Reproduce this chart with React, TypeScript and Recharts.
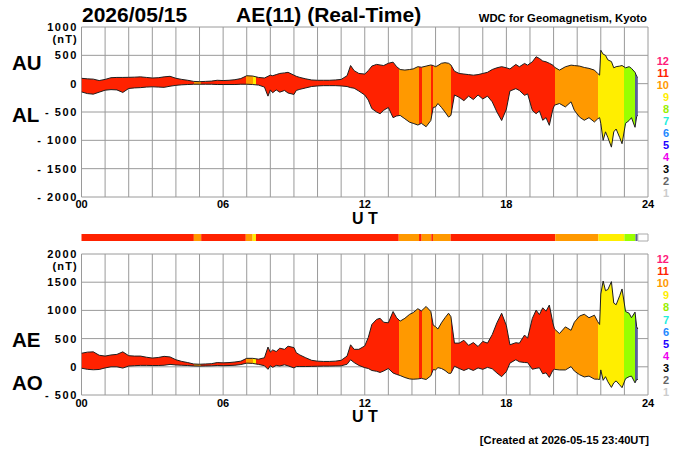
import React from 'react';
import { ComposedChart, BarChart, Bar, Area, Line, XAxis, YAxis, CartesianGrid } from 'recharts';

const FONT = "'Liberation Sans', Arial, Helvetica, sans-serif";

// time (UT hours)
const hours = [
  0, 0.25, 0.5, 0.75, 1, 1.25, 1.5, 1.75, 2, 2.25, 2.5, 2.75, 3, 3.25, 3.5, 3.75, 4, 4.25, 4.5, 4.75,
  5, 5.25, 5.5, 5.75, 6, 6.25, 6.5, 6.75, 7, 7.25, 7.5, 7.75, 7.9, 8, 8.1, 8.25, 8.4, 8.6, 8.75, 9,
  9.1, 9.25, 9.5, 9.75, 10, 10.25, 10.5, 10.75, 11, 11.25, 11.4, 11.55, 11.75, 12, 12.15, 12.3, 12.5, 12.65, 12.8, 13,
  13.2, 13.35, 13.5, 13.7, 13.9, 14.05, 14.25, 14.4, 14.6, 14.8, 14.9, 15, 15.1, 15.25, 15.4, 15.55, 15.65, 15.8, 16, 16.2,
  16.4, 16.6, 16.8, 17, 17.2, 17.4, 17.6, 17.8, 18, 18.15, 18.4, 18.55, 18.77, 18.9, 19.1, 19.26, 19.4, 19.54, 19.68, 19.82,
  19.97, 20.04, 20.25, 20.5, 20.74, 20.88, 21.1, 21.3, 21.5, 21.73, 21.87, 21.95, 22, 22.1, 22.2, 22.3, 22.45, 22.55, 22.65, 22.8,
  22.9, 23.05, 23.2, 23.3, 23.45, 23.52, 23.57,
];

const au = [
  95, 85, 80, 55, 75, 105, 110, 110, 112, 115, 120, 110, 100, 105, 120, 130, 95, 75, 60, 40,
  35, 40, 45, 60, 55, 60, 70, 90, 140, 135, 110, 100, 130, 150, 140, 160, 180, 190, 200, 150,
  130, 110, 85, 65, 60, 60, 60, 65, 75, 140, 320, 230, 180, 170, 230, 310, 340, 330, 320, 360,
  380, 300, 250, 240, 250, 260, 300, 290, 310, 330, 320, 300, 320, 360, 370, 360, 330, 220, 180, 170,
  160, 150, 160, 180, 200, 250, 280, 300, 280, 260, 339, 298, 357, 327, 386, 475, 445, 400, 386, 360,
  327, 290, 239, 298, 327, 320, 310, 286, 270, 239, 180, 150, 590, 520, 500, 420, 390, 280, 300, 310,
  320, 280, 300, 270, 200, 130, 110,
];

const al = [
  -145, -175, -185, -150, -115, -105, -110, -155, -85, -75, -70, -60, -55, -60, -65, -45, -30, -20, -15, -10,
  -10, -10, -10, -15, -15, -15, -15, -10, -10, -15, -25, -60, -220, -110, -160, -110, -150, -120, -165, -190,
  -120, -100, -75, -50, -40, -35, -35, -35, -40, -50, -70, -80, -130, -200, -290, -440, -500, -530, -470, -420,
  -600, -570, -560, -620, -680, -700, -730, -700, -760, -650, -420, -410, -350, -420, -500, -590, -560, -200, -240, -300,
  -220, -280, -200, -270, -220, -320, -500, -650, -450, -130, -88, -120, -206, -180, -472, -530, -480, -646, -600, -735,
  -450, -380, -350, -410, -320, -470, -590, -646, -600, -676, -620, -600, -700, -1000, -850, -950, -1120, -850, -800, -950,
  -1060, -700, -650, -600, -770, -580, -560,
];

// number of contributing stations per time span
const segFrom = [0, 4.76, 5.07, 6.96, 7.25, 7.39, 13.44, 14.3, 14.41, 14.82, 14.89, 15.64, 20.07, 21.9, 23.0, 23.47];
const segTo = [4.76, 5.07, 6.96, 7.25, 7.39, 13.44, 14.3, 14.41, 14.82, 14.89, 15.64, 20.07, 21.9, 23.0, 23.47, 23.57];
const segStations = [11, 10, 11, 10, 9, 11, 10, 11, 10, 11, 10, 11, 10, 9, 8, 5];

const hourTicks = Array.from({ length: 25 }, (_, i) => i);
const auTicks = [-2000, -1500, -1000, -500, 0, 500, 1000];
const aeTicks = [-500, 0, 500, 1000, 1500, 2000];
const legendNumbers = [12, 11, 10, 9, 8, 7, 6, 5, 4, 3, 2, 1];

const fillColors: Record<number, string> = {
  11: '#ff2200', 10: '#ff9900', 9: '#ffee00', 8: '#99ff00', 5: '#5a5f9a',
};
const legendColors: Record<number, string> = {
  12: '#ff1a7a', 11: '#ff2200', 10: '#ff9900', 9: '#ffee00', 8: '#99ee00', 7: '#22eedd',
  6: '#2288ff', 5: '#2200ff', 4: '#ee00ee', 3: '#000000', 2: '#666666', 1: '#cccccc',
};

const rows = hours.map((t, i) => {
  const ae = au[i] - al[i];
  const ao = (au[i] + al[i]) / 2;
  return { t, au: au[i], al: al[i], band: [al[i], au[i]], ae, ao, band2: [ao, ae] };
});

const segments = segFrom.map((f, i) => ({ from: f, to: segTo[i], n: segStations[i] }));
const tEnd = hours[hours.length - 1];

const barRow: Record<string, any> = { name: 'stations', rest: 24 - tEnd };
segments.forEach((s, i) => { barRow[`d${i}`] = s.to - s.from; });
const barData = [barRow];

const gradientStops = (id: string) => (
  <linearGradient id={id} x1="0" y1="0" x2="1" y2="0">
    {segments.flatMap((s, i) => [
      <stop key={`a${i}`} offset={s.from / tEnd} stopColor={fillColors[s.n]} />,
      <stop key={`b${i}`} offset={s.to / tEnd} stopColor={fillColors[s.n]} />,
    ])}
  </linearGradient>
);

const XTick = (props: any) => {
  const { x, y, payload } = props;
  const v = payload.value;
  if (v % 6 !== 0) return <g />;
  return (
    <text x={x} y={y} dy="0.71em" textAnchor="middle" fontFamily={FONT} fontWeight="bold" fontSize={11} fill="#000">
      {String(v).padStart(2, '0')}
    </text>
  );
};

const YTick = (props: any) => {
  const { x, y, payload, unitAt } = props;
  const v = payload.value;
  const label = v < 0 ? `- ${-v}` : `${v}`;
  return (
    <g>
      <text x={x + 1.5} y={y} dy={4} textAnchor="end" fontFamily={FONT} fontWeight="bold" fontSize={11} letterSpacing={1.6} fill="#000">
        {label}
      </text>
      {v === unitAt && (
        <text x={x + 1.5} y={y + 11.5} dy={4} textAnchor="end" fontFamily={FONT} fontWeight="bold" fontSize={11} letterSpacing={1.2} fill="#000">
          (nT)
        </text>
      )}
    </g>
  );
};

const gridColor = '#9a9a9a';
const outline = '#1e1e1e';

export default function App() {
  return (
    <div style={{ position: 'absolute', left: 0, top: 0, width: 700, height: 450, background: '#fff', overflow: 'hidden' }}>
      <div style={{ position: 'absolute', left: 0, top: 0 }}>
        <ComposedChart width={700} height={216} data={rows} margin={{ top: 27, right: 52, bottom: 0, left: 5 }}>
          <defs>{gradientStops('gradTop')}</defs>
          <CartesianGrid stroke={gridColor} strokeWidth={1} />
          <XAxis type="number" dataKey="t" domain={[0, 24]} ticks={hourTicks} interval={0} tickLine={false} axisLine={false}
            tickSize={0} tickMargin={3} height={19} tick={<XTick />} allowDataOverflow />
          <YAxis type="number" domain={[-2000, 1000]} ticks={auTicks} interval={0} tickLine={false} axisLine={false}
            tickSize={0} tickMargin={5} width={76.5} tick={<YTick unitAt={1000} />} allowDataOverflow />
          <Area dataKey="band" type="linear" fill="url(#gradTop)" fillOpacity={1} stroke="none" isAnimationActive={false} activeDot={false} />
          <Line dataKey="au" type="linear" stroke={outline} strokeWidth={1} dot={false} activeDot={false} isAnimationActive={false} />
          <Line dataKey="al" type="linear" stroke={outline} strokeWidth={1} dot={false} activeDot={false} isAnimationActive={false} />
        </ComposedChart>
      </div>

      <div style={{ position: 'absolute', left: 0, top: 244 }}>
        <ComposedChart width={700} height={176} data={rows} margin={{ top: 10, right: 52, bottom: 0, left: 5 }}>
          <defs>{gradientStops('gradBottom')}</defs>
          <CartesianGrid stroke={gridColor} strokeWidth={1} />
          <XAxis type="number" dataKey="t" domain={[0, 24]} ticks={hourTicks} interval={0} tickLine={false} axisLine={false}
            tickSize={0} tickMargin={4} height={25} tick={<XTick />} allowDataOverflow />
          <YAxis type="number" domain={[-500, 2000]} ticks={aeTicks} interval={0} tickLine={false} axisLine={false}
            tickSize={0} tickMargin={5} width={76.5} tick={<YTick unitAt={2000} />} allowDataOverflow />
          <Area dataKey="band2" type="linear" fill="url(#gradBottom)" fillOpacity={1} stroke="none" isAnimationActive={false} activeDot={false} />
          <Line dataKey="ae" type="linear" stroke={outline} strokeWidth={1} dot={false} activeDot={false} isAnimationActive={false} />
          <Line dataKey="ao" type="linear" stroke={outline} strokeWidth={1} dot={false} activeDot={false} isAnimationActive={false} />
        </ComposedChart>
      </div>

      <div style={{ position: 'absolute', left: 0, top: 232 }}>
        <BarChart layout="vertical" width={700} height={11} data={barData}
          margin={{ top: 2, right: 52, bottom: 2.5, left: 81.5 }} barCategoryGap={0} barGap={0}>
          <XAxis type="number" domain={[0, 24]} hide />
          <YAxis type="category" dataKey="name" hide />
          {segments.map((s, i) => (
            <Bar key={i} dataKey={`d${i}`} stackId="st" fill={fillColors[s.n]} isAnimationActive={false} />
          ))}
          <Bar dataKey="rest" stackId="st" fill="#ffffff" stroke="#aaaaaa" strokeWidth={1} isAnimationActive={false} />
        </BarChart>
      </div>

      <svg width={700} height={450} style={{ position: 'absolute', left: 0, top: 0, pointerEvents: 'none' }}>
        <g fontFamily={FONT} fontWeight="bold" fill="#000">
          <text x={82} y={22} fontSize={21}>2026/05/15</text>
          <text x={236} y={22} fontSize={21}>AE(11) (Real-Time)</text>
          <text x={647} y={21.5} fontSize={11.3} textAnchor="end">WDC for Geomagnetism, Kyoto</text>
          <text x={12} y={70} fontSize={20.5}>AU</text>
          <text x={12} y={121.7} fontSize={20.5}>AL</text>
          <text x={12} y={346.7} fontSize={20.5}>AE</text>
          <text x={12} y={390} fontSize={20.5}>AO</text>
          <text x={365} y={223.5} fontSize={16} textAnchor="middle">U T</text>
          <text x={365} y={422} fontSize={16} textAnchor="middle">U T</text>
          <text x={649} y={443.5} fontSize={11.2} textAnchor="end">[Created at 2026-05-15 23:40UT]</text>
          {legendNumbers.map((n, i) => (
            <text key={`lt${n}`} x={669} y={65 + i * 12} fontSize={11} textAnchor="end" fill={legendColors[n]}>{n}</text>
          ))}
          {legendNumbers.map((n, i) => (
            <text key={`lb${n}`} x={669} y={263 + i * 12.1} fontSize={11} textAnchor="end" fill={legendColors[n]}>{n}</text>
          ))}
        </g>
      </svg>
    </div>
  );
}
